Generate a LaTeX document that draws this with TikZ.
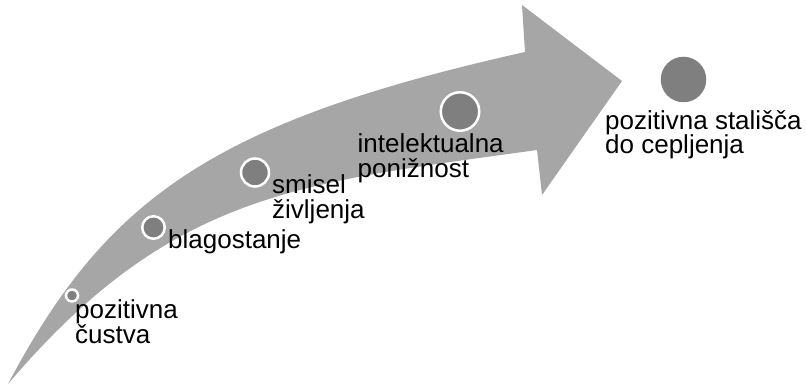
\documentclass[tikz,border=0pt]{standalone}
\usepackage{fontspec}
\setmainfont{Liberation Sans}
\definecolor{arrowgray}{HTML}{A6A6A6}
\definecolor{dotgray}{HTML}{7F7F7F}
\begin{document}
\begin{tikzpicture}[x=1pt,y=-1pt,
  dot/.style={circle,fill=dotgray,draw=white,line width=2.5pt,inner sep=0pt},
  lbl/.style={anchor=base west,inner sep=0pt,align=left,
              font=\fontsize{26}{24.5}\selectfont}]
\useasboundingbox (0,0) rectangle (806,385);
% curved arrow
\fill[arrowgray] (8,384) .. controls (106,199) and (212,122) .. (525,52)
  -- (522,5) -- (622,81) -- (542,195) -- (537,150)
  .. controls (301,183) and (172,191) .. (8,384) -- cycle;
% stages along the arrow
\node[dot,minimum size=12pt] (d1) at (72,295.5) {};
\node[dot,minimum size=22.5pt] (d2) at (153.5,227.5) {};
\node[dot,minimum size=28pt] (d3) at (255,172.5) {};
\node[dot,minimum size=38.5pt] (d4) at (460,111.5) {};
\node[circle,fill=dotgray,inner sep=0pt,minimum size=45.5pt] (d5) at (683.5,79.5) {};
% labels (base anchor sits on the last line)
\node[lbl] (t1) at (75,343) {pozitivna\\čustva};
\node[lbl] (t2) at (168,248) {blagostanje};
\node[lbl] (t3) at (272,218) {smisel\\življenja};
\node[lbl] (t4) at (357.5,177.2) {intelektualna\\ponižnost};
\node[lbl] (t5) at (605,153.8) {pozitivna stališča\\do cepljenja};
\end{tikzpicture}
\end{document}
